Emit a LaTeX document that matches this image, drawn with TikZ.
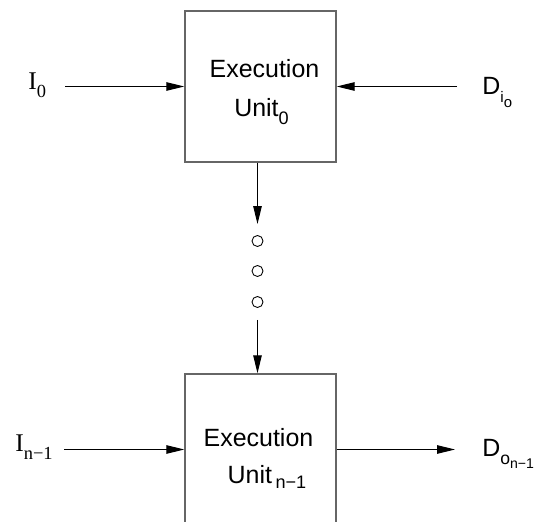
\documentclass[tikz,border=0pt]{standalone}
\usepackage{fontspec}
\setmainfont{Liberation Sans}
\newfontfamily\rmlabel{Liberation Serif}
\usetikzlibrary{arrows.meta,positioning}
% lowered index: drop, size, text
\newcommand{\lowix}[3]{\raisebox{-#1}{\fontsize{#2}{#2}\selectfont #3}}

\begin{document}
\begin{tikzpicture}[
unit/.style={draw=black!60, line width=0.8pt, minimum width=3.02cm, minimum height=3.02cm, inner sep=0pt},
utxt/.style={font=\fontsize{14.2}{17}\selectfont, inner sep=0pt, anchor=base},
inl/.style={font=\rmlabel\fontsize{14.5}{17}\selectfont, inner sep=0pt, anchor=base west},
outl/.style={font=\fontsize{14.2}{17}\selectfont, inner sep=0pt, anchor=base west},
dot/.style={draw, circle, line width=0.5pt, minimum size=0.22cm, inner sep=0pt},
ar/.style={-{Triangle[length=0.36cm,width=0.17cm]}, line width=0.55pt}
]
\useasboundingbox (0,0) rectangle (10.68,10.42);
\clip (0,0) rectangle (10.68,10.42);
% the two units
\node[unit] (eu0) at (5.21,8.69) {};
\node[unit] (eu1) at (5.21,1.43) {};
\node[utxt] (x0) at (5.29,8.86) {Execution};
\node[utxt] (u0) at (5.23,8.08) {Unit\lowix{4pt}{10.3pt}{0}};
\node[utxt] (x1) at (5.17,1.48) {Execution};
\node[utxt] (u1) at (5.34,0.76) {Unit\hspace{2pt}\lowix{3pt}{10.3pt}{n−1}};
% inputs and outputs
\node[inl] (i0) at (0.56,8.62) {I\lowix{4pt}{10.5pt}{0}};
\node[outl] (d0) at (9.64,8.52) {D\lowix{4.5pt}{8.7pt}{i\lowix{2.8pt}{8.5pt}{o}}};
\node[inl] (i1) at (0.30,1.38) {I\lowix{4pt}{10.5pt}{n−1}};
\node[outl] (d1) at (9.64,1.28) {D\lowix{4pt}{10pt}{o\lowix{2.5pt}{8pt}{n−1}}};
% dots
\node[dot] (c1) at (5.15,5.60) {};
\node[dot] (c2) at (5.15,5.00) {};
\node[dot] (c3) at (5.15,4.38) {};
\draw[ar, shorten <=0.38cm] (i0.east |- eu0.west) -- (eu0.west);
\draw[ar, shorten <=0.5cm] (d0.west |- eu0.east) -- (eu0.east);
\draw[ar, shorten >=0.22cm] (eu0.south -| c1) -- (c1.north);
\draw[ar, shorten <=0.24cm] (c3.south) -- (c3 |- eu1.north);
\draw[ar, shorten <=0.22cm] (i1.east |- eu1.west) -- (eu1.west);
\draw[ar, shorten >=0.54cm] (eu1.east) -- (eu1.east -| d1.west);
\end{tikzpicture}
\end{document}
